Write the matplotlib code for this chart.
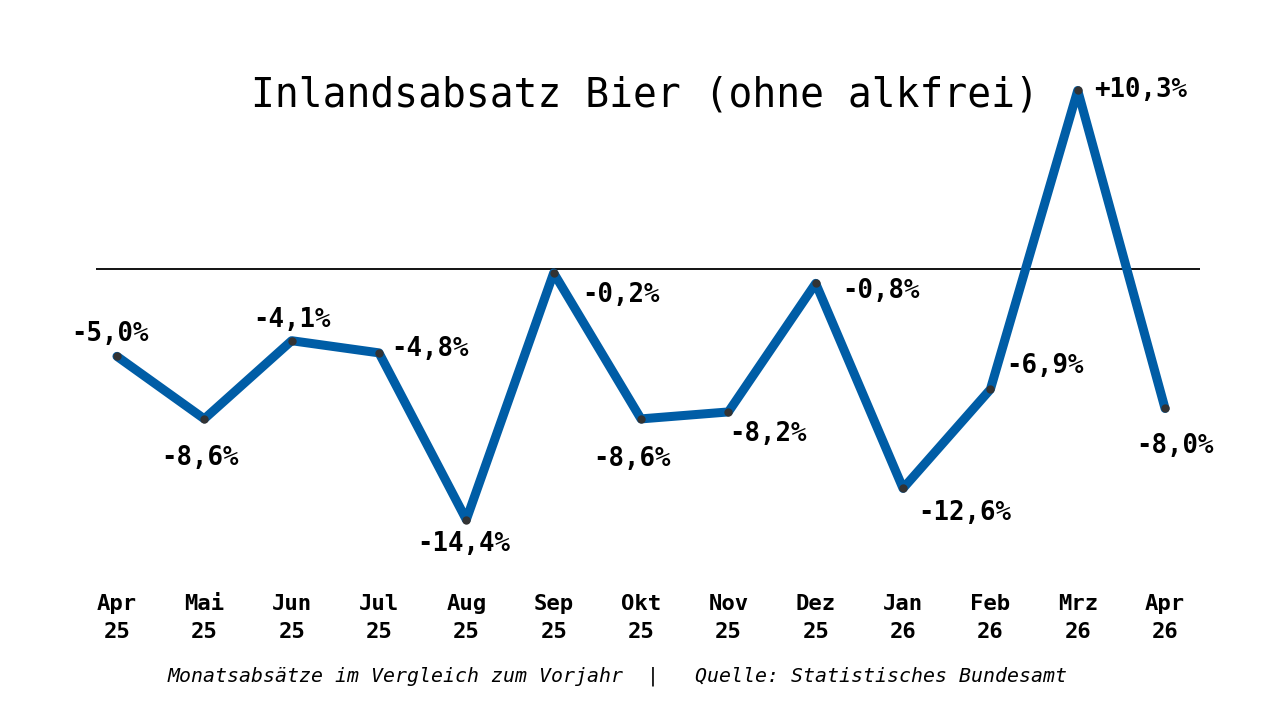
import matplotlib.pyplot as plt

months = ["Apr\n25", "Mai\n25", "Jun\n25", "Jul\n25", "Aug\n25", "Sep\n25", "Okt\n25",
          "Nov\n25", "Dez\n25", "Jan\n26", "Feb\n26", "Mrz\n26", "Apr\n26"]
values = [-5.0, -8.6, -4.1, -4.8, -14.4, -0.2, -8.6, -8.2, -0.8, -12.6, -6.9, 10.3, -8.0]
# label offsets in pixels (dx, dy)
offsets = [(-7, 22), (-4, -39), (0, 21), (51, 4), (-3, -24), (67, -22), (-9, -40),
           (40, -22), (65, -8), (62, -25), (55, 23), (63, 0), (10, -38)]

plt.rcParams['font.family'] = ['DejaVu Sans Mono']
fig = plt.figure(figsize=(12.8, 7.2), dpi=100)
ax = fig.add_axes([96 / 1280, 1 - 544 / 720, 1104 / 1280, 490 / 720])
x = list(range(len(values)))
ax.axhline(0, color='black', lw=1.3)
ax.plot(x, values, color='#005da6', lw=6.5, solid_joinstyle='round', solid_capstyle='round',
        marker='o', markersize=5, markerfacecolor='#333333', markeredgecolor='#333333')
for xi, v, (dx, dy) in zip(x, values, offsets):
    txt = ("+" if v > 0 else "") + f"{v:.1f}".replace(".", ",") + "%"
    ax.annotate(txt, (xi, v), xytext=(dx, dy), textcoords='offset pixels',
                ha='center', va='center', fontsize=18.5, fontweight='bold')
ax.set_xlim(-0.24, 12.4)
ax.set_ylim(-15.8, 12.4)
ax.set_xticks(x)
ax.set_xticklabels(months, fontsize=16, fontweight='bold', linespacing=1.5)
ax.tick_params(axis='x', length=0, pad=36)
ax.set_yticks([])
for s in ax.spines.values():
    s.set_visible(False)
fig.text(645 / 1280, 1 - 96 / 720, "Inlandsabsatz Bier (ohne alkfrei)", ha='center', va='center',
         fontsize=28.5)
fig.text(618 / 1280, 1 - 676 / 720,
         "Monatsabsätze im Vergleich zum Vorjahr  |   Quelle: Statistisches Bundesamt",
         ha='center', va='center', fontsize=14.3, style='italic')
fig.savefig("out.png", dpi=100)
